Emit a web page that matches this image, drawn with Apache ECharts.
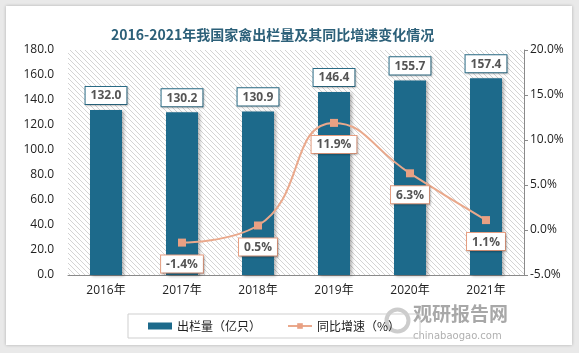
<!DOCTYPE html>
<html>
<head>
	<meta charset="utf-8">
	<title>家禽出栏量</title>
	<script src="https://cdn.jsdelivr.net/npm/echarts@6/dist/echarts.min.js"></script>
	<style>
		html, body { margin: 0; padding: 0; background: #e9e9e9; }
		#card { position: absolute; left: 6px; top: 6px; width: 566px; height: 339px; background: #fff; box-shadow: 0 0 3px rgba(0,0,0,0.25); }
		#main { position: absolute; left: 0; top: 0; width: 579px; height: 353px; }
	</style>
</head>
<body>
	<div id="card"></div>
	<div id="main"></div>
	<script type="text/javascript">
		var years = ['2016年', '2017年', '2018年', '2019年', '2020年', '2021年'];
		var output = [132.0, 130.2, 130.9, 146.4, 155.7, 157.4];     // 亿只
		var growth = [null, -1.4, 0.5, 11.9, 6.3, 1.1];              // %

		// diagonal hatch for the plot background
		var hatch = document.createElement('canvas');
		hatch.width = 5; hatch.height = 5;
		var ctx = hatch.getContext('2d');
		ctx.fillStyle = '#fff';
		ctx.fillRect(0, 0, 5, 5);
		ctx.strokeStyle = '#d4d4d4';
		ctx.lineWidth = 1;
		ctx.beginPath();
		ctx.moveTo(-1, -1); ctx.lineTo(6, 6);
		ctx.moveTo(-1, 4); ctx.lineTo(1, 6);
		ctx.moveTo(4, -1); ctx.lineTo(6, 1);
		ctx.stroke();

		var myChart = echarts.init(document.getElementById('main'));
		var option = {
			backgroundColor: 'transparent',
			textStyle: { fontFamily: '"Open Sans", "Noto Sans CJK SC", sans-serif' },
			title: {
				text: '2016-2021年我国家禽出栏量及其同比增速变化情况',
				left: 106,
				top: 23,
				textStyle: { fontSize: 14, fontWeight: 'bold', color: '#2c6079', fontFamily: '"Noto Sans CJK SC", serif' }
			},
			grid: {
				left: 68, right: 55, top: 50, bottom: 78,
				show: true,
				borderWidth: 0,
				backgroundColor: { image: hatch, repeat: 'repeat' }
			},
			legend: {
				left: 128, top: 314,
				itemGap: 26,
				itemWidth: 24, itemHeight: 7,
				padding: [6, 20, 6, 20],
				borderColor: '#cfcfcf', borderWidth: 1,
				textStyle: { fontSize: 12, color: '#222', fontFamily: '"Noto Sans CJK SC", sans-serif' },
				data: [
					{ name: '出栏量（亿只）', icon: 'rect' },
					{ name: '同比增速（%）' }
				]
			},
			xAxis: {
				type: 'category',
				data: years,
				axisTick: { show: false },
				axisLine: { lineStyle: { color: '#8a8a8a' } },
				axisLabel: { color: '#222', fontSize: 12, margin: 10 }
			},
			yAxis: [
				{
					type: 'value', min: 0, max: 180, interval: 20,
					splitLine: { show: false },
					axisLine: { show: false },
					axisTick: { show: false },
					axisLabel: { color: '#222', fontSize: 12, margin: 14, formatter: function (v) { return v.toFixed(1); } }
				},
				{
					type: 'value', min: -5, max: 20, interval: 5,
					splitLine: { show: false },
					axisLine: { show: true, lineStyle: { color: '#8a8a8a' } },
					axisTick: { show: true, length: 4, lineStyle: { color: '#8a8a8a' } },
					axisLabel: { color: '#222', fontSize: 12, margin: 6, formatter: function (v) { return v.toFixed(1) + '%'; } }
				}
			],
			series: [
				{
					name: '出栏量（亿只）',
					type: 'bar',
					data: output,
					barWidth: 32,
					itemStyle: {
						color: '#1d6a8b',
						shadowBlur: 3, shadowOffsetX: 2, shadowOffsetY: 1,
						shadowColor: 'rgba(0,0,0,0.3)'
					},
					label: {
						show: true, position: 'top', distance: 6,
						formatter: function (p) { return p.value.toFixed(1); },
						color: '#555', fontSize: 12, fontWeight: 'bold',
						backgroundColor: '#fff', borderColor: '#2b6d88', borderWidth: 1,
						padding: [3, 5, 2, 5],
						shadowBlur: 2, shadowColor: 'rgba(0,0,0,0.2)', shadowOffsetX: 1, shadowOffsetY: 1
					}
				},
				{
					name: '同比增速（%）',
					type: 'line',
					yAxisIndex: 1,
					data: growth,
					smooth: true,
					symbol: 'rect',
					symbolSize: 8,
					lineStyle: { color: '#eaa98c', width: 2 },
					itemStyle: { color: '#e9a083' },
					label: {
						show: true, position: 'bottom', distance: 9,
						formatter: function (p) { return p.value.toFixed(1) + '%'; },
						color: '#555', fontSize: 12, fontWeight: 'bold',
						backgroundColor: '#fff', borderColor: '#e9a083', borderWidth: 1,
						padding: [3, 5, 2, 5],
						shadowBlur: 2, shadowColor: 'rgba(0,0,0,0.2)', shadowOffsetX: 1, shadowOffsetY: 1
					}
				}
			],
			graphic: [
				{
					type: 'circle', left: 384, top: 307, shape: { r: 11 },
					style: { fill: 'none', stroke: '#cccccc', lineWidth: 4 }, z: 1
				},
				{
					type: 'text', left: 413, top: 304,
					style: { text: '观研报告网', fill: '#a8a8a8', font: 'bold 19px "Noto Sans CJK SC"' }, z: 1
				},
				{
					type: 'text', left: 413, top: 331,
					style: { text: 'chinabaogao.com', fill: '#b0b0b0', font: '10px "DejaVu Sans"' }, z: 1
				}
			]
		};
		myChart.setOption(option);
	</script>
</body>
</html>
